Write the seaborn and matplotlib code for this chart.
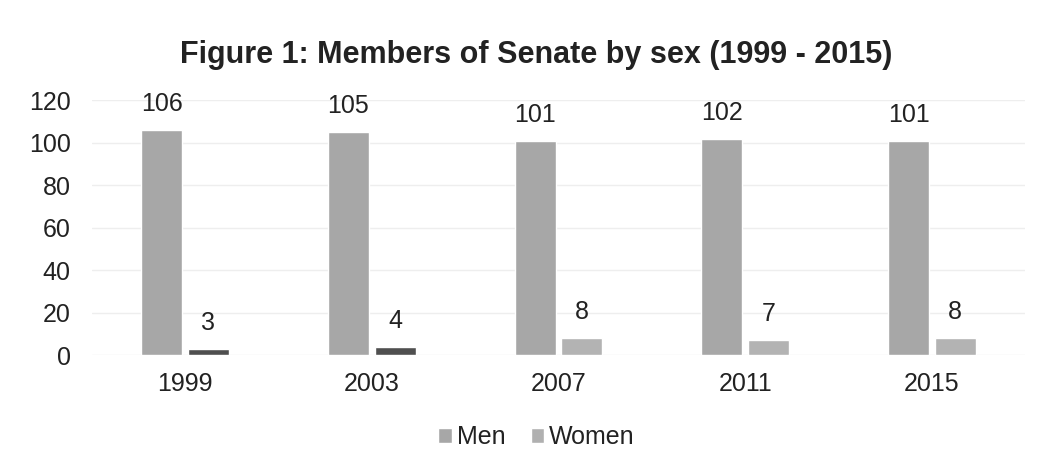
import matplotlib
matplotlib.use("Agg")
import matplotlib.pyplot as plt
import seaborn as sns
import pandas as pd
from matplotlib.patches import Patch

years = ["1999", "2003", "2007", "2011", "2015"]
men = [106, 105, 101, 102, 101]
women = [3, 4, 8, 7, 8]
yticks = [0, 20, 40, 60, 80, 100, 120]

sns.set_theme(style="white")
plt.rcParams['font.family'] = ['Liberation Sans', 'DejaVu Sans']

df = pd.DataFrame({
    "Year": years * 2,
    "Value": men + women,
    "Sex": ["Men"] * len(years) + ["Women"] * len(years),
})

fig = plt.figure(figsize=(10.48, 4.71), dpi=100)
ax = fig.add_axes([0.0874, 0.246, 0.891, 0.541])

sns.barplot(data=df, x="Year", y="Value", hue="Sex", ax=ax,
            palette=["#a7a7a7", "#b0b0b0"], width=0.5, gap=0.12,
            saturation=1, legend=False, errorbar=None)

women_colors = ["#4f4f4f", "#4f4f4f", "#b3b3b3", "#b3b3b3", "#b3b3b3"]
for c in ax.containers:
    ax.bar_label(c, padding=10, fontsize=18, color="#222222")
for p, col in zip(ax.containers[1], women_colors):
    p.set_facecolor(col)

ax.set_ylim(0, 120)
ax.set_yticks(yticks)
ax.set_xlim(-0.5, len(years) - 0.5)
ax.yaxis.grid(True, color="#eeeeee", linewidth=1)
ax.set_axisbelow(True)
for s in ax.spines.values():
    s.set_visible(False)
ax.tick_params(axis="both", labelsize=18, colors="#222222", length=0)
ax.tick_params(axis="x", pad=12)
ax.tick_params(axis="y", pad=15)
ax.set_xlabel("")
ax.set_ylabel("")

fig.suptitle("Figure 1: Members of Senate by sex (1999 - 2015)", x=0.512, y=0.915,
             fontsize=22, fontweight="bold", color="#222222")

handles = [Patch(facecolor="#a7a7a7"), Patch(facecolor="#b0b0b0")]
fig.legend(handles, ["Men", "Women"], loc="center", bbox_to_anchor=(0.512, 0.072),
           ncol=2, frameon=False, fontsize=18, handlelength=0.55, handleheight=0.55,
           handletextpad=0.2, columnspacing=1.0, labelcolor="#222222")

fig.savefig("out.png", dpi=100, facecolor="white")
